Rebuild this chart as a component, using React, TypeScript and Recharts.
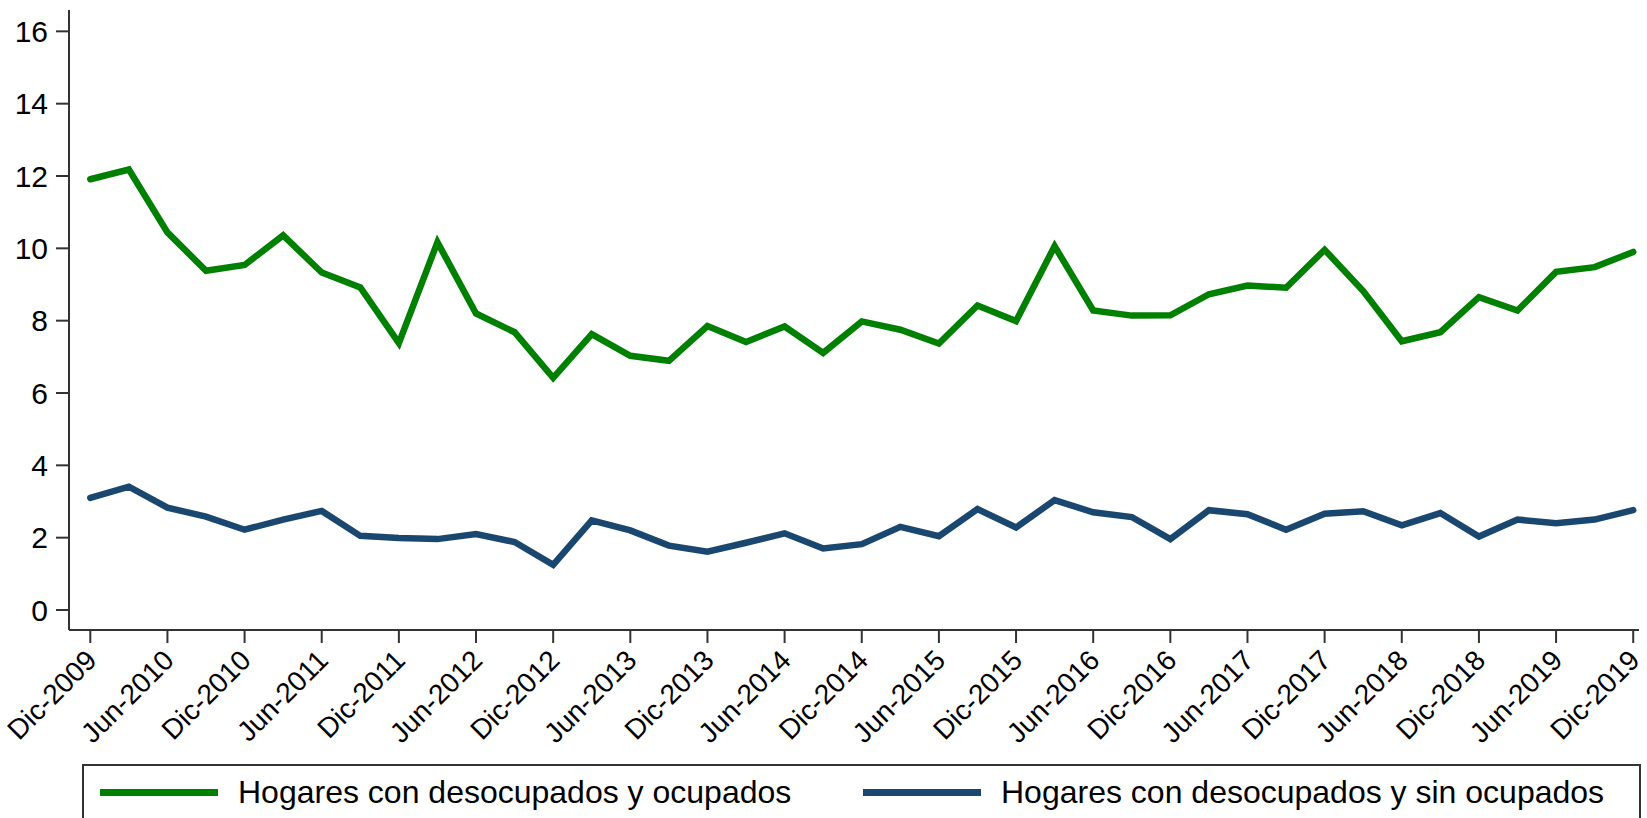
import { LineChart, Line, XAxis, YAxis, Legend } from 'recharts'

const FONT = '"Liberation Sans", Arial, Helvetica, sans-serif'

// Trimestres (Dic-2009 a Dic-2019)
const quarters = [
  'Dic-2009',
  'Mar-2010', 'Jun-2010', 'Sep-2010', 'Dic-2010',
  'Mar-2011', 'Jun-2011', 'Sep-2011', 'Dic-2011',
  'Mar-2012', 'Jun-2012', 'Sep-2012', 'Dic-2012',
  'Mar-2013', 'Jun-2013', 'Sep-2013', 'Dic-2013',
  'Mar-2014', 'Jun-2014', 'Sep-2014', 'Dic-2014',
  'Mar-2015', 'Jun-2015', 'Sep-2015', 'Dic-2015',
  'Mar-2016', 'Jun-2016', 'Sep-2016', 'Dic-2016',
  'Mar-2017', 'Jun-2017', 'Sep-2017', 'Dic-2017',
  'Mar-2018', 'Jun-2018', 'Sep-2018', 'Dic-2018',
  'Mar-2019', 'Jun-2019', 'Sep-2019', 'Dic-2019',
]

const tickLabels = [
  'Dic-2009', 'Jun-2010', 'Dic-2010', 'Jun-2011', 'Dic-2011', 'Jun-2012',
  'Dic-2012', 'Jun-2013', 'Dic-2013', 'Jun-2014', 'Dic-2014', 'Jun-2015',
  'Dic-2015', 'Jun-2016', 'Dic-2016', 'Jun-2017', 'Dic-2017', 'Jun-2018',
  'Dic-2018', 'Jun-2019', 'Dic-2019',
]

const yTicks = [0, 2, 4, 6, 8, 10, 12, 14, 16]

const conOcupados = [
  11.91, 12.18, 10.44, 9.38, 9.54, 10.36, 9.33, 8.92, 7.38, 10.17,
  8.2, 7.68, 6.42, 7.63, 7.03, 6.89, 7.85, 7.41, 7.84, 7.11,
  7.98, 7.75, 7.37, 8.42, 7.99, 10.06, 8.28, 8.14, 8.15, 8.73,
  8.97, 8.91, 9.96, 8.82, 7.43, 7.68, 8.65, 8.28, 9.35, 9.48,
  9.9,
]

const sinOcupados = [
  3.1, 3.41, 2.83, 2.58, 2.22, 2.5, 2.74, 2.05, 1.99, 1.96,
  2.1, 1.88, 1.25, 2.48, 2.2, 1.78, 1.61, 1.86, 2.12, 1.7,
  1.82, 2.3, 2.04, 2.79, 2.28, 3.04, 2.7, 2.57, 1.96, 2.76,
  2.65, 2.22, 2.66, 2.73, 2.34, 2.68, 2.03, 2.5, 2.4, 2.5,
  2.76,
]

const data = quarters.map((q, i) => ({
  idx: i,
  quarter: q,
  conOcupados: conOcupados[i],
  sinOcupados: sinOcupados[i],
}))

const xTicks = tickLabels.map((l) => quarters.indexOf(l))

function XTick(props: any) {
  const { x, y, payload } = props
  const tx = x + 8
  const ty = y + 17
  return (
    <text
      x={tx}
      y={ty}
      transform={`rotate(-45, ${tx}, ${ty})`}
      textAnchor='end'
      fontSize={28}
      fontFamily={FONT}
      fill='#000'
    >
      {quarters[payload.value]}
    </text>
  )
}

const legendOffsets = [16, 779]

function LegendBox(props: any) {
  const { payload } = props
  return (
    <div
      style={{
        width: 1559,
        height: 70,
        border: '2px solid #333',
        boxSizing: 'border-box',
        position: 'relative',
        fontFamily: FONT,
        fontSize: 32,
        color: '#000',
      }}
    >
      {(payload || []).map((entry: any, i: number) => (
        <div
          key={entry.value}
          style={{
            position: 'absolute',
            left: legendOffsets[i],
            top: 8,
            display: 'flex',
            alignItems: 'center',
            whiteSpace: 'nowrap',
          }}
        >
          <div
            style={{
              width: 118,
              height: 7,
              background: entry.color,
              marginRight: 20,
            }}
          />
          <span>{entry.value}</span>
        </div>
      ))}
    </div>
  )
}

export default function App() {
  return (
    <div style={{ position: 'absolute', left: 0, top: 0, background: '#fff' }}>
      <LineChart
        width={1647}
        height={818}
        data={data}
        margin={{ top: 10, right: 8, bottom: 0, left: 0 }}
      >
        <XAxis
          type='number'
          dataKey='idx'
          domain={[-0.552, 40.15]}
          allowDataOverflow
          ticks={xTicks}
          interval={0}
          height={188}
          tickSize={13}
          tickMargin={2}
          stroke='#333'
          strokeWidth={2}
          tick={<XTick />}
        />
        <YAxis
          type='number'
          domain={[-0.553, 16.59]}
          allowDataOverflow
          ticks={yTicks}
          interval={0}
          width={69}
          tickSize={13}
          tickMargin={8}
          stroke='#333'
          strokeWidth={2}
          tick={{ fill: '#000', fontSize: 30, fontFamily: FONT }}
        />
        <Legend
          layout='horizontal'
          verticalAlign='middle'
          align='center'
          wrapperStyle={{ left: 82, top: 764, width: 1559, height: 70 }}
          content={<LegendBox />}
        />
        <Line
          type='linear'
          dataKey='conOcupados'
          name='Hogares con desocupados y ocupados'
          stroke='#008000'
          strokeWidth={6.5}
          strokeLinecap='round'
          dot={false}
          activeDot={false}
          isAnimationActive={false}
        />
        <Line
          type='linear'
          dataKey='sinOcupados'
          name='Hogares con desocupados y sin ocupados'
          stroke='#1a476f'
          strokeWidth={6.5}
          strokeLinecap='round'
          dot={false}
          activeDot={false}
          isAnimationActive={false}
        />
      </LineChart>
    </div>
  )
}
